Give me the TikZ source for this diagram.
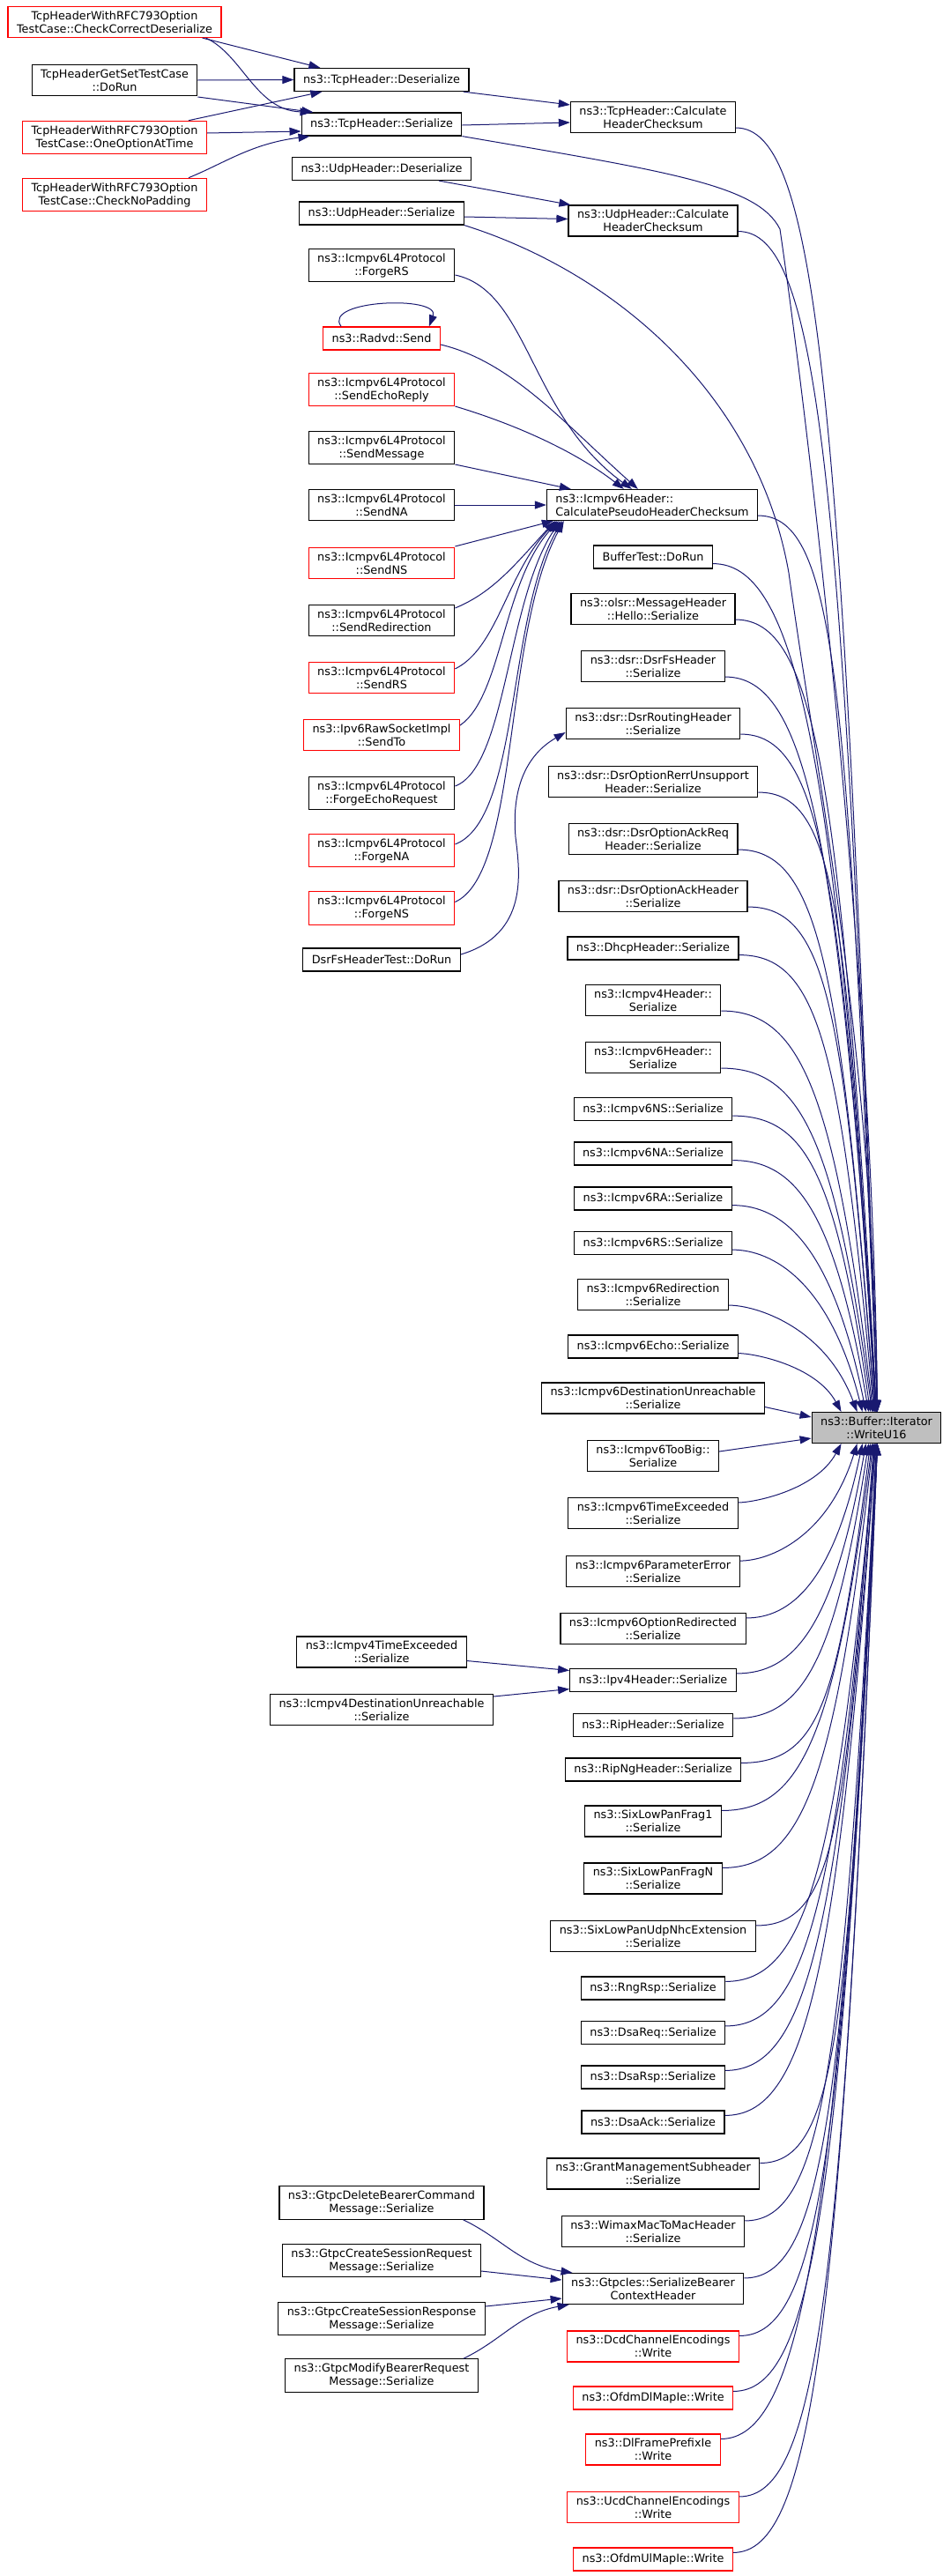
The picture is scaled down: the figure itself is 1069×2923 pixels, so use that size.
\documentclass[tikz,border=0pt]{standalone}
\usepackage{fontspec}
\setmainfont{DejaVu Sans}
\usetikzlibrary{calc}
\usetikzlibrary{arrows.meta}
\definecolor{edgeblue}{RGB}{25,25,112}
\definecolor{hlgray}{RGB}{191,191,191}

\begin{document}
\begin{tikzpicture}[
		x=1pt,y=-1pt,
		fn/.style={draw=black,line width=1.2pt,fill=white,align=center,inner xsep=10pt,inner ysep=5pt,minimum height=26pt,font=\fontsize{12.8}{15}\selectfont},
		fnred/.style={fn,draw=red},
		fnmain/.style={fn,fill=hlgray},
		callarrow/.style={draw=edgeblue,line width=1pt,-{Triangle[length=13pt,width=9pt]}}
		]
	\useasboundingbox (0,0) rectangle (1069,2923);

	\node[fnred] (ccd) at (130,25) {TcpHeaderWithRFC793Option\\TestCase::CheckCorrectDeserialize};
	\node[fn] (gst) at (130,91) {TcpHeaderGetSetTestCase\\::DoRun};
	\node[fnred] (ooat) at (130,156) {TcpHeaderWithRFC793Option\\TestCase::OneOptionAtTime};
	\node[fnred] (cnp) at (130,221) {TcpHeaderWithRFC793Option\\TestCase::CheckNoPadding};

	\node[fn] (tcpdes) at (433,90.5) {ns3::TcpHeader::Deserialize};
	\node[fn] (tcpser) at (433,141) {ns3::TcpHeader::Serialize};
	\node[fn] (udpdes) at (433,191.5) {ns3::UdpHeader::Deserialize};
	\node[fn] (udpser) at (433,242) {ns3::UdpHeader::Serialize};
	\node[fn] (forgers) at (433,301) {ns3::Icmpv6L4Protocol\\::ForgeRS};
	\node[fnred] (radvd) at (433,384) {ns3::Radvd::Send};
	\node[fnred] (echoreply) at (433,442) {ns3::Icmpv6L4Protocol\\::SendEchoReply};
	\node[fn] (sendmsg) at (433,508) {ns3::Icmpv6L4Protocol\\::SendMessage};
	\node[fn] (sendna) at (433,573) {ns3::Icmpv6L4Protocol\\::SendNA};
	\node[fnred] (sendns) at (433,639) {ns3::Icmpv6L4Protocol\\::SendNS};
	\node[fn] (sendredir) at (433,704) {ns3::Icmpv6L4Protocol\\::SendRedirection};
	\node[fnred] (sendrs) at (433,769) {ns3::Icmpv6L4Protocol\\::SendRS};
	\node[fnred] (sendto) at (433,834) {ns3::Ipv6RawSocketImpl\\::SendTo};
	\node[fn] (forgeecho) at (433,900) {ns3::Icmpv6L4Protocol\\::ForgeEchoRequest};
	\node[fnred] (forgena) at (433,965) {ns3::Icmpv6L4Protocol\\::ForgeNA};
	\node[fnred] (forgens) at (433,1030.5) {ns3::Icmpv6L4Protocol\\::ForgeNS};
	\node[fn] (dsrtest) at (433,1089) {DsrFsHeaderTest::DoRun};
	\node[fn] (icmp4te) at (433,1874.5) {ns3::Icmpv4TimeExceeded\\::Serialize};
	\node[fn] (icmp4du) at (433,1940) {ns3::Icmpv4DestinationUnreachable\\::Serialize};
	\node[fn] (gtpcdel) at (433,2499.5) {ns3::GtpcDeleteBearerCommand\\Message::Serialize};
	\node[fn] (gtpccsreq) at (433,2565) {ns3::GtpcCreateSessionRequest\\Message::Serialize};
	\node[fn] (gtpccsresp) at (433,2631) {ns3::GtpcCreateSessionResponse\\Message::Serialize};
	\node[fn] (gtpcmod) at (433,2695.5) {ns3::GtpcModifyBearerRequest\\Message::Serialize};

	\node[fn] (tcpchk) at (741,133) {ns3::TcpHeader::Calculate\\HeaderChecksum};
	\node[fn] (udpchk) at (741,250.5) {ns3::UdpHeader::Calculate\\HeaderChecksum};
	\node[fn,align=left] (pseudo) at (740,573) {ns3::Icmpv6Header::\\CalculatePseudoHeaderChecksum};
	\node[fn] (buftest) at (741,632) {BufferTest::DoRun};
	\node[fn] (hello) at (741,691) {ns3::olsr::MessageHeader\\::Hello::Serialize};
	\node[fn] (dsrfs) at (741,756) {ns3::dsr::DsrFsHeader\\::Serialize};
	\node[fn] (dsrrt) at (741,821) {ns3::dsr::DsrRoutingHeader\\::Serialize};
	\node[fn] (rerr) at (741,887) {ns3::dsr::DsrOptionRerrUnsupport\\Header::Serialize};
	\node[fn] (ackreq) at (741,952) {ns3::dsr::DsrOptionAckReq\\Header::Serialize};
	\node[fn] (ack) at (741,1017) {ns3::dsr::DsrOptionAckHeader\\::Serialize};
	\node[fn] (dhcp) at (741,1076) {ns3::DhcpHeader::Serialize};
	\node[fn] (icmp4h) at (741,1135) {ns3::Icmpv4Header::\\Serialize};
	\node[fn] (icmp6h) at (741,1200) {ns3::Icmpv6Header::\\Serialize};
	\node[fn] (ns6) at (741,1258.5) {ns3::Icmpv6NS::Serialize};
	\node[fn] (na6) at (741,1309) {ns3::Icmpv6NA::Serialize};
	\node[fn] (ra6) at (741,1360) {ns3::Icmpv6RA::Serialize};
	\node[fn] (rs6) at (741,1410.5) {ns3::Icmpv6RS::Serialize};
	\node[fn] (redir6) at (741,1469) {ns3::Icmpv6Redirection\\::Serialize};
	\node[fn] (echo6) at (741,1528) {ns3::Icmpv6Echo::Serialize};
	\node[fn] (du6) at (741,1586.5) {ns3::Icmpv6DestinationUnreachable\\::Serialize};
	\node[fn] (tb6) at (741,1652) {ns3::Icmpv6TooBig::\\Serialize};
	\node[fn] (te6) at (741,1717) {ns3::Icmpv6TimeExceeded\\::Serialize};
	\node[fn] (pe6) at (741,1783) {ns3::Icmpv6ParameterError\\::Serialize};
	\node[fn] (or6) at (741,1848) {ns3::Icmpv6OptionRedirected\\::Serialize};
	\node[fn] (ipv4) at (741,1906.5) {ns3::Ipv4Header::Serialize};
	\node[fn] (rip) at (741,1957.5) {ns3::RipHeader::Serialize};
	\node[fn] (ripng) at (741,2008) {ns3::RipNgHeader::Serialize};
	\node[fn] (frag1) at (741,2066.5) {ns3::SixLowPanFrag1\\::Serialize};
	\node[fn] (fragn) at (741,2131.5) {ns3::SixLowPanFragN\\::Serialize};
	\node[fn] (nhc) at (741,2197) {ns3::SixLowPanUdpNhcExtension\\::Serialize};
	\node[fn] (rngrsp) at (741,2256) {ns3::RngRsp::Serialize};
	\node[fn] (dsareq) at (741,2306.5) {ns3::DsaReq::Serialize};
	\node[fn] (dsarsp) at (741,2357) {ns3::DsaRsp::Serialize};
	\node[fn] (dsaack) at (741,2408) {ns3::DsaAck::Serialize};
	\node[fn] (grant) at (741,2466.5) {ns3::GrantManagementSubheader\\::Serialize};
	\node[fn] (wimax) at (741,2532) {ns3::WimaxMacToMacHeader\\::Serialize};
	\node[fn] (gtpcies) at (741,2597) {ns3::GtpcIes::SerializeBearer\\ContextHeader};
	\node[fnred] (dcd) at (741,2662.5) {ns3::DcdChannelEncodings\\::Write};
	\node[fnred] (dlmap) at (741,2721) {ns3::OfdmDlMapIe::Write};
	\node[fnred] (dlfp) at (741,2779.5) {ns3::DlFramePrefixIe\\::Write};
	\node[fnred] (ucd) at (741,2845) {ns3::UcdChannelEncodings\\::Write};
	\node[fnred] (ulmap) at (741,2904) {ns3::OfdmUlMapIe::Write};

	\node[fnmain] (wr) at (994.5,1620) {ns3::Buffer::Iterator\\::WriteU16};

	\draw[callarrow] ($(ccd.south east)+(-22,0)$) -- ($(tcpdes.north west)+(30,0)$);
	\draw[callarrow] ($(ccd.south east)+(-18,0)$) .. controls (275,62) and (290,125) .. ($(tcpser.north west)+(12,0)$);
	\draw[callarrow] (gst.east) -- (tcpdes.west);
	\draw[callarrow] ($(gst.east)+(0,19)$) -- ($(tcpser.north west)+(14,0)$);
	\draw[callarrow] ($(ooat.north east)+(-21,0)$) -- ($(tcpdes.south west)+(32,0)$);
	\draw[callarrow] ($(ooat.east)+(0,-5)$) -- ($(tcpser.west)+(0,8)$);
	\draw[callarrow] ($(cnp.north east)+(-21,0)$) .. controls (255,185) and (285,163) .. ($(tcpser.south west)+(10,0)$);
	\draw[callarrow] ($(tcpdes.south east)+(-7,0)$) -- ($(tcpchk.west)+(0,-14)$);
	\draw[callarrow] ($(tcpser.east)+(0,1)$) -- ($(tcpchk.west)+(0,6)$);
	\draw[callarrow] ($(udpdes.south east)+(-37,0)$) -- ($(udpchk.north west)+(3,0)$);
	\draw[callarrow] ($(udpser.east)+(0,4)$) -- ($(udpchk.west)+(0,-2)$);

	\draw[callarrow] ($(radvd.north west)+(21,0)$) .. controls (365,340) and (500,335) .. ($(radvd.north east)+(-13,0)$);
	\draw[callarrow] ($(forgers.east)+(0,11)$) .. controls (600,330) and (600,470) .. ($(pseudo.north west)+(97,0)$);
	\draw[callarrow] ($(radvd.east)+(0,7)$) .. controls (580,410) and (640,480) .. ($(pseudo.north west)+(104,0)$);
	\draw[callarrow] ($(echoreply.east)+(0,19)$) .. controls (580,480) and (650,510) .. ($(pseudo.north west)+(88,0)$);
	\draw[callarrow] ($(sendmsg.east)+(0,19)$) -- ($(pseudo.north west)+(28,0)$);
	\draw[callarrow] (sendna.east) -- (pseudo.west);
	\draw[callarrow] ($(sendns.east)+(0,-19)$) -- ($(pseudo.south west)+(8,0)$);
	\draw[callarrow] ($(sendredir.east)+(0,-14)$) .. controls (560,672) and (585,640) .. ($(pseudo.south west)+(10,0)$);
	\draw[callarrow] ($(sendrs.east)+(0,-10)$) .. controls (565,735) and (575,650) .. ($(pseudo.south west)+(12,0)$);
	\draw[callarrow] ($(sendto.east)+(0,-11)$) .. controls (570,790) and (570,660) .. ($(pseudo.south west)+(14,0)$);
	\draw[callarrow] ($(forgeecho.east)+(0,-8)$) .. controls (575,870) and (575,680) .. ($(pseudo.south west)+(16,0)$);
	\draw[callarrow] ($(forgena.east)+(0,-7)$) .. controls (590,930) and (575,700) .. ($(pseudo.south west)+(18,0)$);
	\draw[callarrow] ($(forgens.east)+(0,-7)$) .. controls (590,990) and (570,720) .. ($(pseudo.south west)+(20,0)$);
	\draw[callarrow] ($(dsrtest.east)+(0,-6)$) .. controls (600,1060) and (590,990) .. (585,950) .. controls (580,890) and (600,855) .. ($(dsrrt.west)+(0,10)$);

	\draw[callarrow] ($(icmp4te.east)+(0,10)$) -- ($(ipv4.west)+(0,-11)$);
	\draw[callarrow] ($(icmp4du.east)+(0,-15)$) -- ($(ipv4.west)+(0,10)$);
	\draw[callarrow] ($(gtpcdel.south east)+(-24,0)$) .. controls (570,2540) and (590,2570) .. ($(gtpcies.north west)+(12,0)$);
	\draw[callarrow] ($(gtpccsreq.east)+(0,12)$) -- ($(gtpcies.west)+(0,-10)$);
	\draw[callarrow] ($(gtpccsresp.east)+(0,-14)$) -- ($(gtpcies.west)+(0,11)$);
	\draw[callarrow] ($(gtpcmod.north east)+(-17,0)$) .. controls (570,2655) and (590,2625) .. ($(gtpcies.south west)+(8,0)$);

	\draw[callarrow] (tcpser.south east) .. controls (760,195) and (860,210) .. (885,260) .. controls (920,500) and (990,1100) .. ($(wr.north west)+(75,0)$);
	\draw[callarrow] (udpser.south east) .. controls (700,310) and (860,450) .. (895,650) .. controls (930,900) and (990,1200) .. ($(wr.north west)+(75,0)$);
	\draw[callarrow] ($(du6.east)+(0,10)$) -- ($(wr.west)+(0,-12)$);
	\draw[callarrow] ($(tb6.east)+(0,-5)$) -- ($(wr.west)+(0,12)$);

	\foreach \src/\ex in {tcpchk/75,udpchk/75,pseudo/75,buftest/74,hello/74,dsrfs/74,dsrrt/73,rerr/73,ackreq/72,ack/72,dhcp/71,icmp4h/70,icmp6h/69,ns6/67,na6/65,ra6/62,rs6/58,redir6/52,echo6/34}
		\draw[callarrow] let \p1=($(\src.south east)+(0,-6)$), \p2=($(wr.north west)+(\ex,0)$),
			\n1={min(90,0.25*abs((\y2)-(\y1)))}, \n2={0.25*((\x2)-(\x1))}, \n3={0.2*((\y2)-(\y1))}
			in (\p1) .. controls ($(\p1)+(\n1,0pt)$) and ({\x2-\n2},{\y1+\n3}) .. (\p2);
	\foreach \src/\ex in {te6/34,pe6/52,or6/58,ipv4/62,rip/65,ripng/67,frag1/69,fragn/70,nhc/71,rngrsp/72,dsareq/72,dsarsp/73,dsaack/73,grant/74,wimax/74,gtpcies/75,dcd/75,dlmap/75,dlfp/75,ucd/75,ulmap/75}
		\draw[callarrow] let \p1=($(\src.north east)+(0,6)$), \p2=($(wr.south west)+(\ex,0)$),
			\n1={min(90,0.25*abs((\y2)-(\y1)))}, \n2={0.25*((\x2)-(\x1))}, \n3={0.2*((\y2)-(\y1))}
			in (\p1) .. controls ($(\p1)+(\n1,0pt)$) and ({\x2-\n2},{\y1+\n3}) .. (\p2);
\end{tikzpicture}
\end{document}
